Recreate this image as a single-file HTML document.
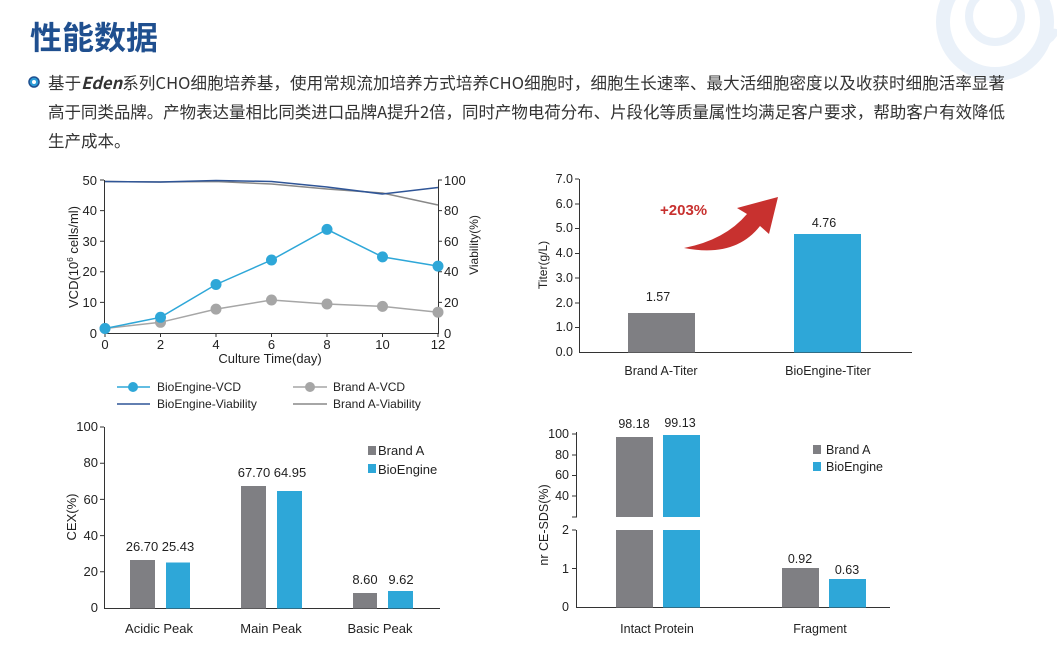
<!DOCTYPE html>
<html><head><meta charset="utf-8"><style>
html,body{margin:0;padding:0;background:#fff;}
svg{display:block;font-family:"Liberation Sans","Noto Sans CJK SC",sans-serif;}
</style></head><body>
<svg width="1057" height="652" viewBox="0 0 1057 652" xmlns="http://www.w3.org/2000/svg">
<!-- deco -->
<g fill="none" stroke="#eaf1f9">
<circle cx="995" cy="22" r="52" stroke-width="14"/>
<circle cx="995" cy="16" r="26" stroke-width="8"/>
<path d="M1045 40 Q1052 32 1057 36" stroke-width="12"/>
</g>
<text x="30" y="49" font-size="32" font-weight="bold" fill="#1f4f8f" font-family="'Noto Sans CJK SC',sans-serif">性能数据</text>
<circle cx="34" cy="82" r="5" fill="#2b9bd6" stroke="#1f4f8f" stroke-width="1.5"/>
<circle cx="34" cy="82" r="2" fill="#fff"/>
<g font-size="16.5" fill="#333" font-family="'Noto Sans CJK SC',sans-serif">
<text x="48" y="89" textLength="957" lengthAdjust="spacing">基于<tspan font-style="italic" font-weight="bold">Eden</tspan>系列CHO细胞培养基，使用常规流加培养方式培养CHO细胞时，细胞生长速率、最大活细胞密度以及收获时细胞活率显著</text>
<text x="48" y="118" textLength="957" lengthAdjust="spacing">高于同类品牌。产物表达量相比同类进口品牌A提升2倍，同时产物电荷分布、片段化等质量属性均满足客户要求，帮助客户有效降低</text>
<text x="48" y="147">生产成本。</text>
</g>

<!-- Chart 1 -->
<g stroke="#333" stroke-width="1" fill="none">
<path d="M104.5 180 V333.5 H438.5 V180"/>
<path d="M100 180h4M100 210.6h4M100 241.2h4M100 271.8h4M100 302.4h4"/>
<path d="M438 180h4M438 210.6h4M438 241.2h4M438 271.8h4M438 302.4h4"/>
<path d="M105 333v4M160.5 333v4M216 333v4M271.5 333v4M327 333v4M382.5 333v4M438 333v4"/>
</g>
<g font-size="13" fill="#222" text-anchor="end">
<text x="97" y="185">50</text><text x="97" y="215">40</text><text x="97" y="246">30</text><text x="97" y="276">20</text><text x="97" y="307">10</text><text x="97" y="338">0</text>
</g>
<g font-size="13" fill="#222">
<text x="444" y="185">100</text><text x="444" y="215">80</text><text x="444" y="246">60</text><text x="444" y="276">40</text><text x="444" y="307">20</text><text x="444" y="338">0</text>
</g>
<g font-size="13" fill="#222" text-anchor="middle">
<text x="105" y="349">0</text><text x="160.5" y="349">2</text><text x="216" y="349">4</text><text x="271.5" y="349">6</text><text x="327" y="349">8</text><text x="382.5" y="349">10</text><text x="438" y="349">12</text>
<text x="270" y="363" font-size="13">Culture Time(day)</text>
<text transform="translate(78 257) rotate(-90)" font-size="13">VCD(10<tspan font-size="8" dy="-5">6</tspan><tspan dy="5"> cells/ml)</tspan></text>
<text transform="translate(478 245) rotate(-90)" font-size="12">Viability(%)</text>
</g>
<polyline fill="none" stroke="#888" stroke-width="1.5" points="105,181.5 160.5,182 216,181.5 271.5,184 327,189 382.5,193 438,205"/>
<polyline fill="none" stroke="#2f5597" stroke-width="1.5" points="105,181.5 160.5,182 216,180.5 271.5,181.5 327,187 382.5,194 438,187.5"/>
<polyline fill="none" stroke="#a6a6a6" stroke-width="1.5" points="105,328.5 160.5,322.3 216,309.1 271.5,300 327,304 382.5,306.4 438,312.2"/>
<g fill="#a6a6a6"><circle cx="105" cy="328.5" r="5.5"/><circle cx="160.5" cy="322.3" r="5.5"/><circle cx="216" cy="309.1" r="5.5"/><circle cx="271.5" cy="300" r="5.5"/><circle cx="327" cy="304" r="5.5"/><circle cx="382.5" cy="306.4" r="5.5"/><circle cx="438" cy="312.2" r="5.5"/></g>
<polyline fill="none" stroke="#2ea7d8" stroke-width="1.5" points="105,328.5 160.5,317.3 216,284.5 271.5,260 327,229.4 382.5,256.9 438,266.1"/>
<g fill="#2ea7d8"><circle cx="105" cy="328.5" r="5.5"/><circle cx="160.5" cy="317.3" r="5.5"/><circle cx="216" cy="284.5" r="5.5"/><circle cx="271.5" cy="260" r="5.5"/><circle cx="327" cy="229.4" r="5.5"/><circle cx="382.5" cy="256.9" r="5.5"/><circle cx="438" cy="266.1" r="5.5"/></g>
<!-- legend -->
<line x1="117" y1="387" x2="150" y2="387" stroke="#2ea7d8" stroke-width="1.5"/><circle cx="133" cy="387" r="5" fill="#2ea7d8"/>
<line x1="293" y1="387" x2="327" y2="387" stroke="#a6a6a6" stroke-width="1.5"/><circle cx="310" cy="387" r="5" fill="#a6a6a6"/>
<line x1="117" y1="404" x2="150" y2="404" stroke="#2f5597" stroke-width="1.5"/>
<line x1="293" y1="404" x2="327" y2="404" stroke="#888" stroke-width="1.5"/>
<g font-size="12" fill="#222">
<text x="157" y="391">BioEngine-VCD</text><text x="333" y="391">Brand A-VCD</text>
<text x="157" y="408">BioEngine-Viability</text><text x="333" y="408">Brand A-Viability</text>
</g>

<!-- Titer -->
<g stroke="#333" fill="none">
<path d="M579.5 179 V352.5 H912"/>
<path d="M575 179h4M575 204h4M575 228.5h4M575 253.5h4M575 278h4M575 303h4M575 327.5h4"/>
</g>
<g font-size="12.5" fill="#222" text-anchor="end">
<text x="573" y="183">7.0</text><text x="573" y="208">6.0</text><text x="573" y="232">5.0</text><text x="573" y="257">4.0</text><text x="573" y="282">3.0</text><text x="573" y="307">2.0</text><text x="573" y="331">1.0</text><text x="573" y="356">0.0</text>
</g>
<rect x="628" y="313" width="67" height="39.5" fill="#7f7f83"/>
<rect x="794" y="234" width="67" height="118.5" fill="#2ea7d8"/>
<g font-size="12.5" fill="#222" text-anchor="middle">
<text x="658" y="301">1.57</text><text x="824" y="227">4.76</text>
<text x="661" y="375">Brand A-Titer</text><text x="828" y="375">BioEngine-Titer</text>
<text transform="translate(547 265) rotate(-90)" font-size="12">Titer(g/L)</text>
</g>
<path d="M684 248 Q725 240 747 214 L737 208 L778 197 L769 234 L760 226 Q735 258 684 248 Z" fill="#c8312f"/>
<text x="660" y="215" font-size="15" font-weight="bold" fill="#c8312f">+203%</text>

<!-- CEX -->
<g stroke="#333" fill="none">
<path d="M104.5 427 V608.5 H440"/>
<path d="M100 427h4M100 463.2h4M100 499.4h4M100 535.6h4M100 571.8h4"/>
</g>
<g font-size="13" fill="#222" text-anchor="end">
<text x="98" y="431">100</text><text x="98" y="467">80</text><text x="98" y="504">60</text><text x="98" y="540">40</text><text x="98" y="576">20</text><text x="98" y="612">0</text>
</g>
<g fill="#7f7f83"><rect x="130" y="560" width="25" height="48.5"/><rect x="241" y="486" width="25" height="122.5"/><rect x="353" y="593" width="24" height="15.5"/></g>
<g fill="#2ea7d8"><rect x="166" y="562.5" width="24" height="46"/><rect x="277" y="491" width="25" height="117.5"/><rect x="388" y="591" width="25" height="17.5"/></g>
<g font-size="13" fill="#222" text-anchor="middle">
<text x="142" y="551">26.70</text><text x="178" y="551">25.43</text>
<text x="254" y="477">67.70</text><text x="290" y="477">64.95</text>
<text x="365" y="584">8.60</text><text x="401" y="584">9.62</text>
<text x="159" y="633">Acidic Peak</text><text x="271" y="633">Main Peak</text><text x="380" y="633">Basic Peak</text>
<text transform="translate(76 517) rotate(-90)" font-size="13">CEX(%)</text>
</g>
<rect x="368" y="446" width="8" height="9" fill="#7f7f83"/><rect x="368" y="464" width="8" height="9" fill="#2ea7d8"/>
<g font-size="13" fill="#222"><text x="378" y="455">Brand A</text><text x="378" y="474">BioEngine</text></g>

<!-- CE-SDS -->
<g stroke="#333" fill="none">
<path d="M576.5 432 V517 H572"/>
<path d="M576.5 530 V607.5 H890"/>
<path d="M572 434h4M572 455h4M572 475.5h4M572 496h4M572 530h4M572 568.5h4"/>
</g>
<g font-size="12.5" fill="#222" text-anchor="end">
<text x="569" y="438">100</text><text x="569" y="459">80</text><text x="569" y="479">60</text><text x="569" y="500">40</text><text x="569" y="534">2</text><text x="569" y="573">1</text><text x="569" y="611">0</text>
</g>
<g fill="#7f7f83"><rect x="616" y="437" width="37" height="80"/><rect x="616" y="530" width="37" height="77.5"/><rect x="782" y="568" width="37" height="39.5"/></g>
<g fill="#2ea7d8"><rect x="663" y="435" width="37" height="82"/><rect x="663" y="530" width="37" height="77.5"/><rect x="829" y="579" width="37" height="28.5"/></g>
<g font-size="12.5" fill="#222" text-anchor="middle">
<text x="634" y="428">98.18</text><text x="680" y="427">99.13</text>
<text x="800" y="563">0.92</text><text x="847" y="574">0.63</text>
<text x="657" y="633">Intact Protein</text><text x="820" y="633">Fragment</text>
<text transform="translate(548 525) rotate(-90)" font-size="12.5">nr CE-SDS(%)</text>
</g>
<rect x="813" y="445" width="8" height="9" fill="#7f7f83"/><rect x="813" y="462" width="8" height="9" fill="#2ea7d8"/>
<g font-size="12.5" fill="#222"><text x="826" y="454">Brand A</text><text x="826" y="471">BioEngine</text></g>
</svg>
</body></html>
